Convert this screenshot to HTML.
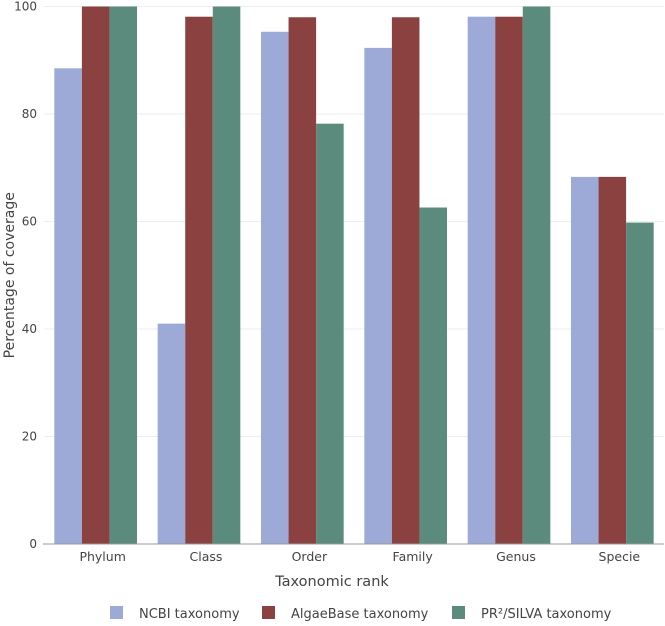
<!DOCTYPE html>
<html><head><meta charset="utf-8"><style>
body{margin:0;background:#fff}
svg text{font-family:"DejaVu Sans","Liberation Sans",sans-serif;fill:#444}
</style></head><body>
<svg id="c" width="665" height="621"></svg>
<script>
const categories=["Phylum","Class","Order","Family","Genus","Specie"];
const seriesNames=["NCBI taxonomy","AlgaeBase taxonomy","PR²/SILVA taxonomy"];
const ncbi=[88.5,41,95.3,92.3,98.1,68.3];
const algae=[100,98.1,98,98,98.1,68.3];
const pr2=[100,100,78.2,62.6,100,59.8];
const yTicks=[0,20,40,60,80,100];
const colors=["#9daad8","#8c4141","#5b8b7d"];
const ns="http://www.w3.org/2000/svg";
const svg=document.getElementById('c');
const X0=44,X1=664,Y0=544,Y1=6.5;
const band=(X1-X0)/categories.length;
const y=v=>Y0-(v/100)*(Y0-Y1);
function mk(t,a,txt){const e=document.createElementNS(ns,t);for(const k in a)e.setAttribute(k,a[k]);if(txt!==undefined)e.textContent=txt;svg.appendChild(e);return e;}
yTicks.forEach(t=>{
  if(t>0){const g=mk('line',{x1:X0,x2:X1,y1:y(t),y2:y(t),stroke:'#eeeeee','stroke-width':1});
  
  }
  const l=mk('text',{x:37,y:y(t)+4,'text-anchor':'end','font-size':12},String(t));
  
  
});
const series=[ncbi,algae,pr2];
const bw=band*0.8/3;
series.forEach((s,si)=>{
  s.forEach((v,i)=>{
    const x=X0+band*i+band*0.1+bw*si;
    const r=mk('rect',{x:x,y:y(v),width:bw,height:Y0-y(v),fill:colors[si]});
    
    
  });
});
categories.forEach((c,i)=>{
  const t=mk('text',{x:X0+band*(i+0.5)+7,y:Y0+17,'text-anchor':'middle','font-size':12.5},c);
  
  
});
const ax=mk('line',{x1:43,x2:X1,y1:Y0,y2:Y0,stroke:'#999','stroke-width':1});


const xt=mk('text',{x:332,y:586,'text-anchor':'middle','font-size':14.5},'Taxonomic rank');


const yt=mk('text',{x:0,y:0,'text-anchor':'middle','font-size':14,transform:'translate(14,'+(Y0+Y1)/2+') rotate(-90)'},'Percentage of coverage');


const lx=[110,262,452];
seriesNames.forEach((n,i)=>{
  const r=mk('rect',{x:lx[i],y:606,width:13,height:13,fill:colors[i]});
  
  
  const t=mk('text',{x:lx[i]+29,y:618,'font-size':13},n);
  
  
});
</script>
</body></html>
